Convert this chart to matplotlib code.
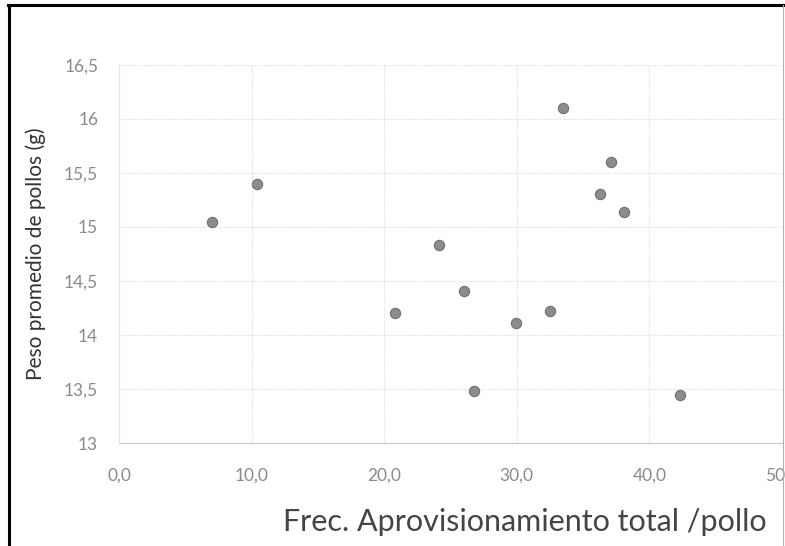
import matplotlib.pyplot as plt
from matplotlib.lines import Line2D
from matplotlib.ticker import FuncFormatter, MultipleLocator

# Frecuencia de aprovisionamiento total por pollo vs. peso promedio (g)
frec = [7.0, 10.4, 20.8, 24.1, 26.0, 26.8, 29.95, 32.5, 33.5, 36.3, 37.1, 38.1, 42.3]
peso = [15.05, 15.40, 14.20, 14.83, 14.41, 13.48, 14.11, 14.22, 16.10, 15.31, 15.60, 15.14, 13.44]

plt.rcParams['font.family'] = ['Lato', 'DejaVu Sans']

fig = plt.figure(figsize=(7.85, 5.46), dpi=100)
ax = fig.add_axes([0.1516, 0.1886, 0.8445, 0.6924])

ax.scatter(frec, peso, s=55, color='#8c8c8c', edgecolors='#707070', linewidths=0.8, zorder=3)

ax.set_xlim(0, 50)
ax.set_ylim(13, 16.5)
ax.xaxis.set_major_locator(MultipleLocator(10))
ax.yaxis.set_major_locator(MultipleLocator(0.5))
ax.xaxis.set_major_formatter(FuncFormatter(lambda v, p: f'{v:.1f}'.replace('.', ',')))
ax.yaxis.set_major_formatter(FuncFormatter(
    lambda v, p: (f'{v:g}').replace('.', ',')))

ax.grid(True, color='#dedede', linestyle=(0, (1, 1)), linewidth=0.8)
ax.set_axisbelow(True)
for side in ['top', 'right']:
    ax.spines[side].set_visible(False)
ax.spines['left'].set_color('#e4e4e4')
ax.spines['bottom'].set_color('#c8c8c8')
ax.spines['bottom'].set_linestyle((0, (1, 1)))
ax.tick_params(length=0, labelsize=12.5, labelcolor='#8a8a8a')
ax.tick_params(axis='x', pad=18)
ax.tick_params(axis='y', pad=15)

fig.text(0.046, 0.535, 'Peso promedio de pollos (g)', fontsize=15, color='#333333',
         rotation=90, ha='center', va='center')
fig.text(0.668, 0.044, 'Frec. Aprovisionamiento total /pollo', fontsize=22,
         color='#454545', ha='center', va='center')

# marco exterior
fig.add_artist(Line2D([0.011, 0.011], [0.0, 0.99], color='black', lw=2.2))
fig.add_artist(Line2D([0.010, 0.998], [0.99, 0.99], color='black', lw=2.2))
fig.add_artist(Line2D([0.997, 0.997], [0.0, 0.99], color='#b0b0b0', lw=0.8))

fig.savefig('out.png', dpi=100)
